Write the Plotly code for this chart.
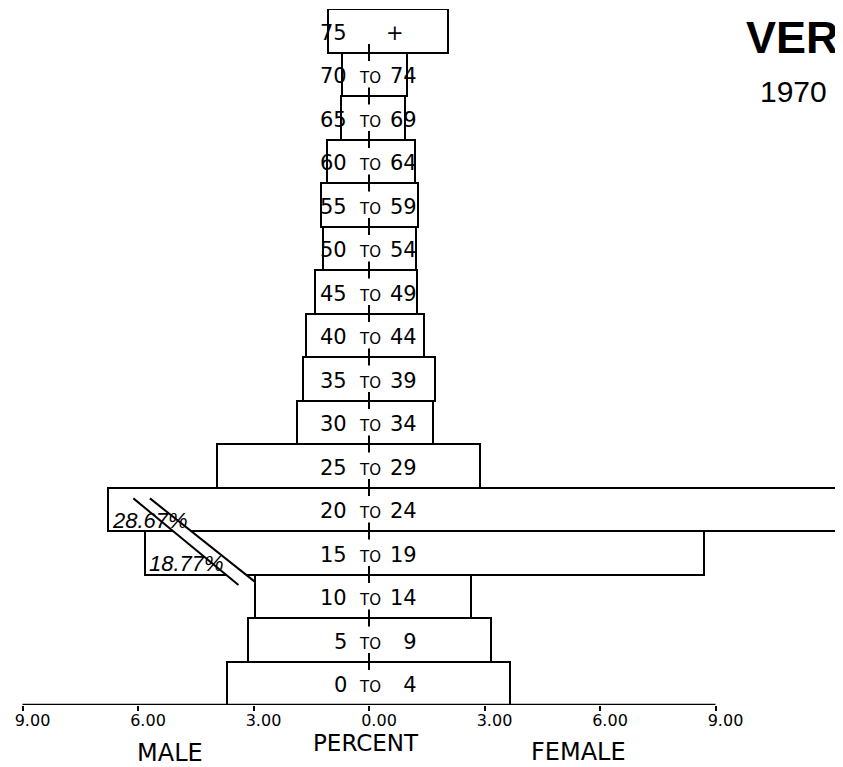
import plotly.graph_objects as go

# ---------------- data ----------------
age_groups = ["0 to 4", "5 to 9", "10 to 14", "15 to 19", "20 to 24", "25 to 29",
              "30 to 34", "35 to 39", "40 to 44", "45 to 49", "50 to 54", "55 to 59",
              "60 to 64", "65 to 69", "70 to 74", "75 +"]
label_low = ["0", "5", "10", "15", "20", "25", "30", "35", "40", "45", "50", "55",
             "60", "65", "70", "75"]
label_high = ["4", "9", "14", "19", "24", "29", "34", "39", "44", "49", "54", "59",
              "64", "69", "74", "+"]
male_pct = [3.69, 3.14, 2.96, 18.77, 28.67, 3.95, 1.87, 1.71, 1.64, 1.40, 1.19, 1.25,
            1.09, 0.73, 0.70, 1.06]
female_pct = [3.66, 3.17, 2.65, 8.70, 12.29, 2.88, 1.66, 1.71, 1.43, 1.25, 1.22, 1.27,
              1.19, 0.94, 0.99, 2.05]
# bars whose male side is drawn shortened (axis break), with the drawn length
broken_drawn = {"20 to 24": 6.78, "15 to 19": 5.82}
tick_vals = [-9, -6, -3, 0, 3, 6, 9]
tick_text = ["9.00", "6.00", "3.00", "0.00", "3.00", "6.00", "9.00"]
title_main = "VER"
title_year = "1970"

# ---------------- geometry (page has an 8px body margin) ----------------
OFF = 8
W, H = 843 - OFF, 767 - OFF
MT = 9 - OFF
PLOT_BOTTOM = 705 - OFF
MB = H - PLOT_BOTTOM
PX_PER_UNIT = 38.5
ZERO_PX = 369 - OFF
x_range = [-ZERO_PX / PX_PER_UNIT, (W - ZERO_PX) / PX_PER_UNIT]
PLOT_H = H - MT - MB


def paper_x(page_px):
    return (page_px - OFF) / W


def paper_y(page_py):
    return (PLOT_BOTTOM - (page_py - OFF)) / PLOT_H


# ---------------- build ----------------
idx = list(range(len(age_groups)))
male_drawn = [broken_drawn.get(g, m) for g, m in zip(age_groups, male_pct)]
total_len = [m + f for m, f in zip(male_drawn, female_pct)]
base = [-m for m in male_drawn]

fig = go.Figure()
fig.add_trace(go.Bar(
    y=idx, x=total_len, base=base, orientation="h", width=1,
    marker=dict(color="white", line=dict(color="black", width=2)),
    hoverinfo="skip", showlegend=False,
))

# center ticks at each row boundary
bounds = [i + 0.5 for i in idx[:-1]]
fig.add_trace(go.Scatter(
    x=[0] * len(bounds), y=bounds, mode="markers",
    marker=dict(symbol="line-ns", size=12, line=dict(color="black", width=2)),
    hoverinfo="skip", showlegend=False,
))

shapes = []
shapes.append(dict(type="line", xref="x", yref="y", x0=0, x1=0, y0=-0.5, y1=len(idx) - 0.5,
                   line=dict(color="#b0b0b0", width=1.5, dash="dot"), layer="below"))
shapes.append(dict(type="line", xref="x", yref="y", x0=tick_vals[0], x1=tick_vals[-1],
                   y0=-0.5, y1=-0.5, line=dict(color="black", width=2.5)))

# axis-break decoration across the broken rows
i_top = age_groups.index("20 to 24")
i_bot = age_groups.index("15 to 19")
yt = i_top + 0.25
yb1 = i_bot - 0.74
yb2 = i_bot - 0.67
xa1, xa2 = -6.12, -3.39
xb1, xb2 = -5.69, -2.96
shapes.append(dict(type="path", xref="x", yref="y",
                   path=f"M {xa1} {yt} L {xb1} {yt} L {xb2} {yb2} L {xa2} {yb1} Z",
                   fillcolor="white", line=dict(width=0)))
shapes.append(dict(type="line", xref="x", yref="y", x0=xa1, y0=yt, x1=xa2, y1=yb1,
                   line=dict(color="black", width=2)))
shapes.append(dict(type="line", xref="x", yref="y", x0=xb1, y0=yt, x1=xb2, y1=yb2,
                   line=dict(color="black", width=2)))

annotations = []
FONT = "DejaVu Sans"
for i, (lo, hi) in enumerate(zip(label_low, label_high)):
    if len(hi) == 2:
        hi_txt = hi
    elif hi == "+":
        hi_txt = hi + "\u2007"
    else:
        hi_txt = "\u2007" + hi
    annotations.append(dict(x=0, y=i, xref="x", yref="y", text=lo, showarrow=False,
                            xanchor="right", yanchor="middle", xshift=-20, yshift=-2,
                            font=dict(family=FONT, size=21, color="black")))
    if hi != "+":
        annotations.append(dict(x=0, y=i, xref="x", yref="y", text="TO", showarrow=False,
                                xanchor="center", yanchor="middle", xshift=1, yshift=-4,
                                font=dict(family=FONT, size=15, color="black")))
    annotations.append(dict(x=0, y=i, xref="x", yref="y", text=hi_txt, showarrow=False,
                            xanchor="right", yanchor="middle", xshift=50, yshift=-2,
                            font=dict(family=FONT, size=21, color="black")))

# true values of the broken bars
for g in broken_drawn:
    i = age_groups.index(g)
    val = male_pct[i]
    annotations.append(dict(x=-broken_drawn[g], y=i, xref="x", yref="y",
                            text=f"<i>{val:.2f}%</i>", showarrow=False,
                            xanchor="left", yanchor="middle", xshift=2, yshift=-11,
                            font=dict(family="Liberation Sans", size=22, color="black")))

# axis captions and titles
annotations += [
    dict(xref="paper", yref="paper", x=paper_x(170), y=paper_y(753), text="MALE",
         showarrow=False, xanchor="center", yanchor="middle",
         font=dict(family=FONT, size=24, color="black")),
    dict(xref="paper", yref="paper", x=paper_x(366), y=paper_y(743), text="PERCENT",
         showarrow=False, xanchor="center", yanchor="middle",
         font=dict(family=FONT, size=23, color="black")),
    dict(xref="paper", yref="paper", x=paper_x(578), y=paper_y(752), text="FEMALE",
         showarrow=False, xanchor="center", yanchor="middle",
         font=dict(family=FONT, size=24, color="black")),
    dict(xref="paper", yref="paper", x=paper_x(792), y=paper_y(38), text=title_main,
         showarrow=False, xanchor="center", yanchor="middle",
         font=dict(family="Liberation Sans", size=45, color="black", weight="bold")),
    dict(xref="paper", yref="paper", x=paper_x(793), y=paper_y(91), text=title_year,
         showarrow=False, xanchor="center", yanchor="middle",
         font=dict(family="Liberation Sans", size=30, color="black")),
]

fig.update_layout(
    width=W, height=H,
    margin=dict(l=0, r=0, t=MT, b=MB, pad=0),
    paper_bgcolor="white", plot_bgcolor="white",
    shapes=shapes, annotations=annotations,
    xaxis=dict(range=x_range, showgrid=False, zeroline=False,
               showline=False, tickmode="array", tickvals=tick_vals, ticktext=tick_text,
               ticks="outside", ticklen=5, tickwidth=2, tickcolor="black",
               ticklabelshift=10, ticklabelstandoff=-4,
               tickfont=dict(family=FONT, size=16, color="black"), fixedrange=True),
    yaxis=dict(range=[-0.5, len(idx) - 0.5], visible=False, fixedrange=True),
    bargap=0, showlegend=False,
)

fig.write_html("out.html")
